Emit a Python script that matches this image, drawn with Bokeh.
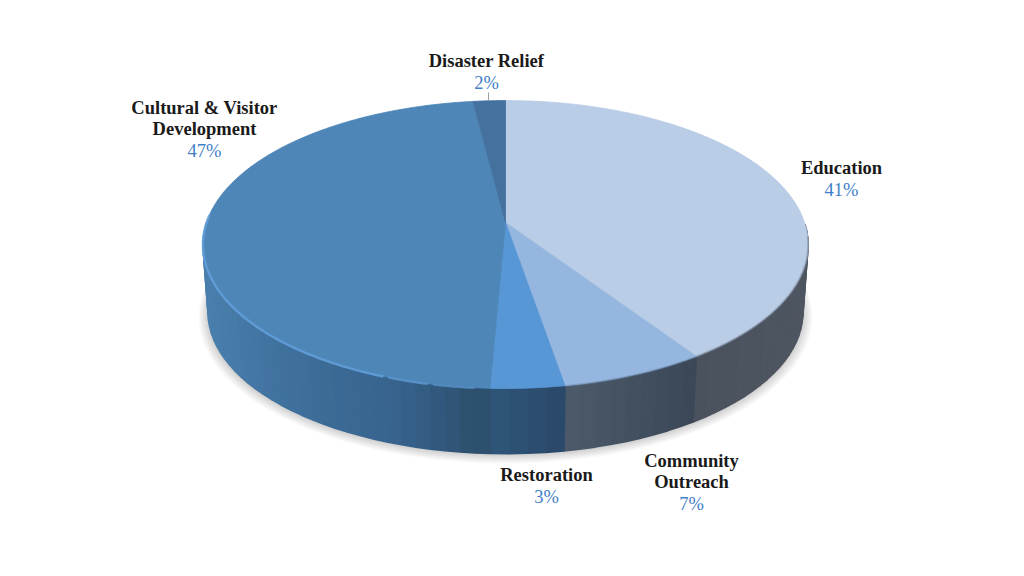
import numpy as np
from bokeh.plotting import figure
from bokeh.embed import file_html
from bokeh.resources import INLINE
from bokeh.core.properties import value

# ---- data ----
categories = ["Education", "Community Outreach", "Restoration", "Cultural & Visitor Development", "Disaster Relief"]
shares = [40.6, 6.7, 3.4, 47.3, 2.0]
percent_labels = ["41%", "7%", "3%", "47%", "2%"]

# ---- styles ----
top_colors = ["#B9CDE6", "#95B6DE", "#5897D6", "#4E86B8", "#44719E"]
wall_stops = [
    [(690, "#4A525D"), (810, "#4E5661")],
    [(565, "#4C5A6A"), (640, "#414F5E"), (696, "#3B4756")],
    [(490, "#2F5679"), (565, "#2A4869")],
    [(202, "#4A7FAD"), (300, "#3E6E9A"), (400, "#36628C"), (470, "#2E506F")],
    [(470, "#2E506F"), (505, "#2E506F")],
]
label_lines = [["Education"], ["Community", "Outreach"], ["Restoration"],
               ["Cultural & Visitor", "Development"], ["Disaster Relief"]]
label_anchor = [(841, 167), (691, 460), (546, 474), (204, 107), (486, 60)]
LINE_STEP = 21.5

# ---- perspective geometry of the disc ----
CX, CY, R, B, C = 505.0, 222.0, 299.0, 0.153, 140.6
DEPTH, SHRINK = 68.0, 0.983


def proj(deg, s=1.0, d=0.0):
    a = np.radians(deg)
    den = 1 + B * np.cos(a)
    return CX + s * R * np.sin(a) / den, CY - s * C * np.cos(a) / den + d


def hex2rgb(h):
    return np.array([int(h[i:i + 2], 16) for i in (1, 3, 5)], float)


def ramp(x, stops):
    xs = [t[0] for t in stops]
    cs = np.array([hex2rgb(t[1]) for t in stops])
    r = [np.interp(x, xs, cs[:, i]) for i in range(3)]
    return "#%02X%02X%02X" % tuple(int(round(v)) for v in r)


edges = 3.6 * np.concatenate([[0], np.cumsum(shares)])

p = figure(width=1008, height=560, x_range=(0, 1008), y_range=(560, 0),
           output_backend="svg", toolbar_location=None,
           x_axis_location=None, y_axis_location=None,
           min_border=0, background_fill_color="white", border_fill_color="white")
p.grid.visible = False
p.outline_line_color = None

# soft ground shadow
full = np.linspace(0, 360, 241)
for g in range(9, 0, -1):
    sx, sy = proj(full, SHRINK + g * 0.0035, DEPTH + 1.0 + g * 0.4)
    p.patch(sx, sy, fill_color="#000000", fill_alpha=0.018, line_color=None)

# outer wall, in strips that follow each slice's horizontal gradient
for i in range(len(shares)):
    n = max(2, int((edges[i + 1] - edges[i]) / 2.5))
    ang = np.linspace(edges[i], edges[i + 1], n + 1)
    wx, wy, wc = [], [], []
    for a0, a1 in zip(ang[:-1], ang[1:]):
        if np.cos(np.radians((a0 + a1) / 2)) > 0.0:
            continue
        x0, y0 = proj(a0)
        x1, y1 = proj(a1)
        x2, y2 = proj(a1, SHRINK, DEPTH)
        x3, y3 = proj(a0, SHRINK, DEPTH)
        wx.append([x0, x1, x2, x3])
        wy.append([y0, y1, y2, y3])
        wc.append(ramp((x0 + x1) / 2, wall_stops[i]))
    if wx:
        p.patches(wx, wy, fill_color=wc, line_color=wc, line_width=1.6)

# top face
for i in range(len(shares)):
    ang = np.linspace(edges[i], edges[i + 1], max(3, int(edges[i + 1] - edges[i]) * 2))
    rx, ry = proj(ang)
    p.patch(np.r_[CX, rx], np.r_[CY, ry], fill_color=top_colors[i],
            line_color=top_colors[i], line_width=0.8)

# bevel along the front rim: (slice, colour, width, alpha, from angle, to angle)
for i, col, w, al, lo, hi in [(0, "#7D8A9E", 2.0, 0.5, 95, 360),
                              (1, "#6E8CB0", 2.0, 0.4, 0, 360),
                              (3, "#64A2DF", 2.4, 0.8, 200, 274),
                              (3, "#5C98D2", 2.2, 0.8, 192, 200),
                              (3, "#5590C6", 2.0, 0.8, 185, 192)]:
    ang = np.linspace(edges[i], edges[i + 1], 200)
    ang = ang[(ang >= lo) & (ang <= hi)]
    rx, ry = proj(ang, 1.0, 0.3)
    p.line(rx, ry, line_color=col, line_width=w, line_alpha=al, line_cap="butt")

# leader line for the smallest slice
p.line([488, 488], [92, 100], line_color="#9AA0A6", line_width=1)

# labels
name_font = value("Liberation Serif")
for lines, anchor, pct in zip(label_lines, label_anchor, percent_labels):
    ys = [anchor[1] + k * LINE_STEP for k in range(len(lines))]
    p.text([anchor[0]] * len(lines), ys, text=lines, text_font=name_font,
           text_font_style="bold", text_font_size="18.5px", text_color="#1A1A1A",
           text_align="center", text_baseline="middle")
    p.text([anchor[0]], [anchor[1] + len(lines) * LINE_STEP + 0.5], text=[pct], text_font=name_font,
           text_font_size="18.5px", text_color="#3F80C6",
           text_align="center", text_baseline="middle")

open("out.html", "w").write(file_html(p, INLINE))
